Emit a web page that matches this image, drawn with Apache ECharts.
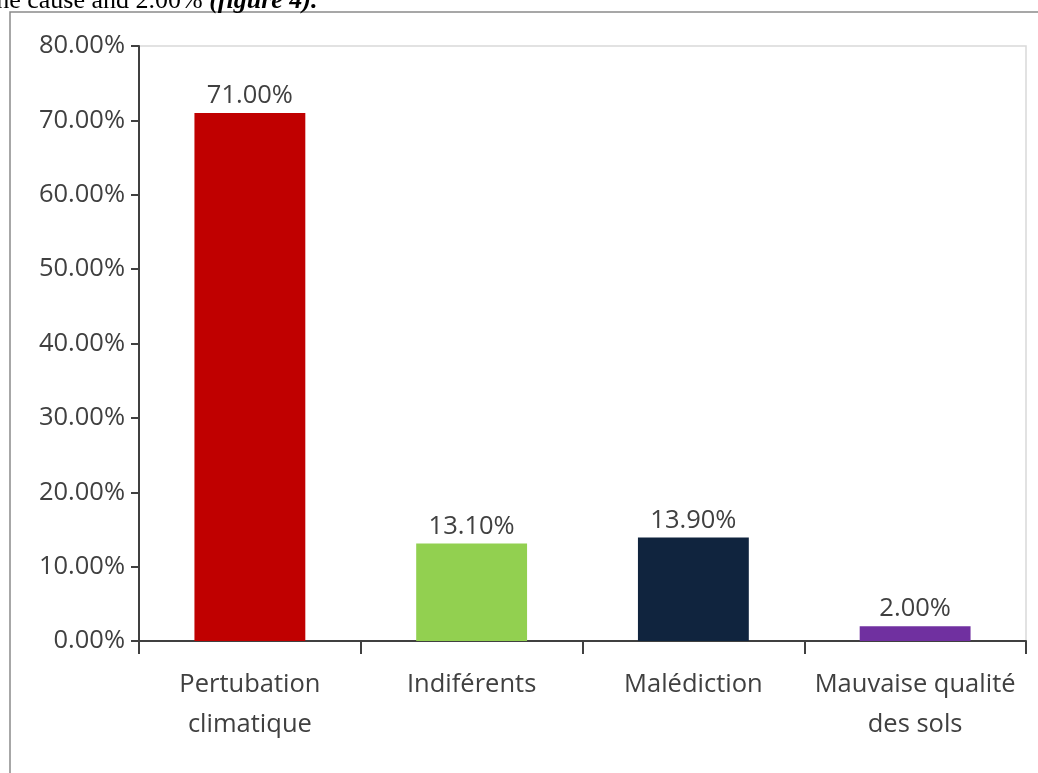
<!DOCTYPE html>
<html>
<head>
<meta charset="utf-8">
<script src="https://cdn.jsdelivr.net/npm/echarts@6/dist/echarts.min.js"></script>
<style>
html,body{margin:0;padding:0;background:#fff;}
#chart{width:1038px;height:773px;}
</style>
</head>
<body>
<div id="chart"></div>
<script>
var categories = ['Pertubation\nclimatique', 'Indiférents', 'Malédiction', 'Mauvaise qualité\ndes sols'];
var values = [71.0, 13.1, 13.9, 2.0];
var barColors = ['#C00000', '#92D050', '#10243E', '#7030A0'];
var yTicks = [0, 10, 20, 30, 40, 50, 60, 70, 80];
var captionText = 'the cause and 2.00% ';
var captionRef = '(figure 4).';

var FONT = '"Open Sans", "Noto Sans", sans-serif';
var FS = 25.5;
var chart = echarts.init(document.getElementById('chart'));
chart.setOption({
  animation: false,
  backgroundColor: '#fff',
  graphic: [
    {
      type: 'rect',
      shape: { x: 10, y: 12, width: 1200, height: 900 },
      style: { fill: 'none', stroke: '#8a8a8a', lineWidth: 1.5 },
      silent: true
    },
    {
      type: 'text',
      x: -11, y: 14,
      style: {
        text: '{n|' + captionText + '}{b|' + captionRef + '}',
        verticalAlign: 'bottom',
        rich: {
          n: { fontFamily: '"Liberation Serif", serif', fontSize: 26, fill: '#000' },
          b: { fontFamily: '"Liberation Serif", serif', fontSize: 26, fontWeight: 'bold', fontStyle: 'italic', fill: '#000' }
        }
      },
      silent: true
    }
  ],
  grid: {
    left: 139, top: 46, right: 12, bottom: 132,
    show: true, borderColor: '#d9d9d9', borderWidth: 1.5, backgroundColor: 'transparent'
  },
  xAxis: {
    type: 'category',
    data: categories,
    axisLine: { lineStyle: { color: '#404040', width: 2 } },
    axisTick: { show: true, alignWithLabel: false, length: 13, lineStyle: { color: '#404040', width: 2 } },
    axisLabel: {
      color: '#404040', fontFamily: FONT, fontSize: FS, lineHeight: 40, margin: 24, interval: 0
    }
  },
  yAxis: {
    type: 'value',
    min: 0, max: 80, interval: 10,
    axisLine: { show: true, lineStyle: { color: '#404040', width: 2 } },
    axisTick: { show: true, length: 8, lineStyle: { color: '#404040', width: 2 } },
    splitLine: { show: false },
    axisLabel: {
      color: '#404040', fontFamily: FONT, fontSize: FS, margin: 14,
      formatter: function (v) { return v.toFixed(2) + '%'; }
    }
  },
  series: [{
    type: 'bar',
    data: values.map(function (v, i) { return { value: v, itemStyle: { color: barColors[i] } }; }),
    barWidth: '50%',
    label: {
      show: true, position: 'top', distance: 4,
      color: '#404040', fontFamily: FONT, fontSize: FS,
      formatter: function (p) { return p.value.toFixed(2) + '%'; }
    }
  }]
});
</script>
</body>
</html>
